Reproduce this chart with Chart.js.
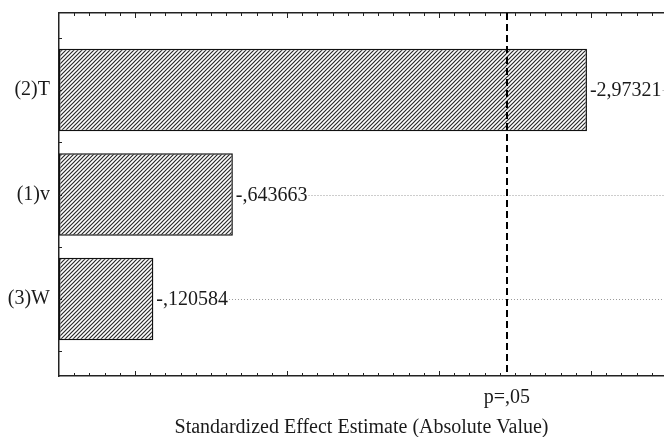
<!DOCTYPE html>
<html>
<head>
<meta charset="utf-8">
<script src="https://cdn.jsdelivr.net/npm/chart.js@4"></script>
<style>
  html, body { margin: 0; padding: 0; background: #fff; overflow: hidden; }
</style>
</head>
<body>
<canvas id="chart" width="664" height="437"></canvas>
<script>
// effects, top to bottom as in the chart
var factors = ['(2)T', '(1)v', '(3)W'];
var effects = [-2.97321, -0.643663, -0.120584];
var critValue = 2.446912;   // t for p=.05
var critLabel = 'p=,05';
var axisTitle = 'Standardized Effect Estimate (Absolute Value)';

var xMin = -0.5, xMax = 3.48;
var fontFamily = '"Liberation Serif", "Times New Roman", serif';

function statFormat(v) {
  var s = Math.abs(v).toString().replace(/^0\./, '.').replace('.', ',');
  return (v < 0 ? '-' : '') + s;
}

function hatch() {
  var c = document.createElement('canvas');
  c.width = 4; c.height = 4;
  var g = c.getContext('2d');
  g.fillStyle = '#fff';
  g.fillRect(0, 0, 4, 4);
  g.strokeStyle = '#2a2a2a';
  g.lineWidth = 1.2;
  g.beginPath();
  g.moveTo(0, 4); g.lineTo(4, 0);
  g.moveTo(-1, 1); g.lineTo(1, -1);
  g.moveTo(3, 5); g.lineTo(5, 3);
  g.stroke();
  return g.createPattern(c, 'repeat');
}

function noPad(scale) {
  scale.paddingTop = 0; scale.paddingBottom = 0;
  scale.paddingLeft = 0; scale.paddingRight = 0;
}

var decor = {
  id: 'decor',
  afterDatasetsDraw: function (chart) {
    var ctx = chart.ctx, x = chart.scales.x, y = chart.scales.y, a = chart.chartArea;
    ctx.save();
    // small inner ticks, top and bottom
    ctx.strokeStyle = '#222';
    ctx.lineWidth = 1;
    ctx.beginPath();
    for (var k = -4; k <= 34; k++) {
      var px = Math.round(x.getPixelForValue(k / 10)) + 0.5;
      var len = k % 10 === 0 ? 5 : 3;
      ctx.moveTo(px, a.bottom); ctx.lineTo(px, a.bottom - len);
      ctx.moveTo(px, a.top); ctx.lineTo(px, a.top + len);
    }
    for (var j = -1; j <= 5; j++) {
      var py = Math.round(y.getPixelForValue(j / 2)) + 0.5;
      ctx.moveTo(a.left, py); ctx.lineTo(a.left + 3, py);
    }
    ctx.stroke();

    // value labels with dotted leaders
    ctx.font = '20px ' + fontFamily;
    ctx.textBaseline = 'middle';
    ctx.textAlign = 'left';
    effects.forEach(function (v, i) {
      var bx = x.getPixelForValue(Math.abs(v));
      var by = y.getPixelForValue(i);
      var txt = statFormat(v);
      ctx.fillStyle = '#1a1a1a';
      ctx.fillText(txt, bx + 3, by + 1);
      var end = bx + 3 + ctx.measureText(txt).width + 1;
      ctx.save();
      ctx.strokeStyle = '#9a9a9a';
      ctx.setLineDash([1, 2]);
      ctx.beginPath();
      ctx.moveTo(end, Math.round(by) + 0.5);
      ctx.lineTo(a.right, Math.round(by) + 0.5);
      ctx.stroke();
      ctx.restore();
    });

    // critical value line
    var cx = Math.round(x.getPixelForValue(critValue));
    ctx.strokeStyle = '#000';
    ctx.lineWidth = 2;
    ctx.setLineDash([7, 4]);
    ctx.beginPath();
    ctx.moveTo(cx, a.top);
    ctx.lineTo(cx, a.bottom);
    ctx.stroke();
    ctx.restore();
  }
};

var ctx = document.getElementById('chart').getContext('2d');
var chart = new Chart(ctx, {
  type: 'bar',
  data: {
    datasets: [{
      data: effects.map(function (v, i) { return { x: Math.abs(v), y: i }; }),
      base: xMin,
      backgroundColor: hatch(),
      borderColor: '#111',
      borderWidth: 1.5,
      borderSkipped: false,
      categoryPercentage: 1,
      barPercentage: 0.79
    }]
  },
  options: {
    indexAxis: 'y',
    responsive: false,
    animation: false,
    devicePixelRatio: 1,
    layout: { padding: 0 },
    plugins: {
      legend: { display: false },
      tooltip: { enabled: false }
    },
    scales: {
      x: {
        type: 'linear',
        position: 'bottom',
        min: xMin,
        max: xMax,
        offset: false,
        grid: { display: false, drawTicks: false },
        border: { display: true, color: '#222', width: 1.5 },
        afterBuildTicks: function (scale) { scale.ticks = [{ value: critValue }]; },
        afterFit: function (scale) { scale.height = 61; noPad(scale); },
        ticks: {
          padding: 10,
          color: '#1a1a1a',
          font: { family: fontFamily, size: 20 },
          callback: function () { return critLabel; }
        },
        title: {
          display: true,
          text: axisTitle,
          color: '#1a1a1a',
          font: { family: fontFamily, size: 20 },
          padding: { top: 0, bottom: -3 }
        }
      },
      x2: {
        type: 'linear',
        position: 'top',
        min: xMin,
        max: xMax,
        offset: false,
        grid: { display: false, drawTicks: false },
        border: { display: true, color: '#222', width: 1.5 },
        ticks: { display: false },
        afterFit: function (scale) { scale.height = 13; noPad(scale); }
      },
      y: {
        type: 'linear',
        reverse: true,
        offset: false,
        min: -0.737,
        max: 2.737,
        grid: { display: false, drawTicks: false },
        border: { display: true, color: '#222', width: 1.5 },
        afterBuildTicks: function (scale) {
          scale.ticks = factors.map(function (f, i) { return { value: i }; });
        },
        afterFit: function (scale) { scale.width = 59; noPad(scale); },
        ticks: {
          padding: 9,
          color: '#1a1a1a',
          font: { family: fontFamily, size: 20 },
          callback: function (v) { return factors[v]; }
        }
      }
    }
  },
  plugins: [decor]
});
</script>
</body>
</html>
